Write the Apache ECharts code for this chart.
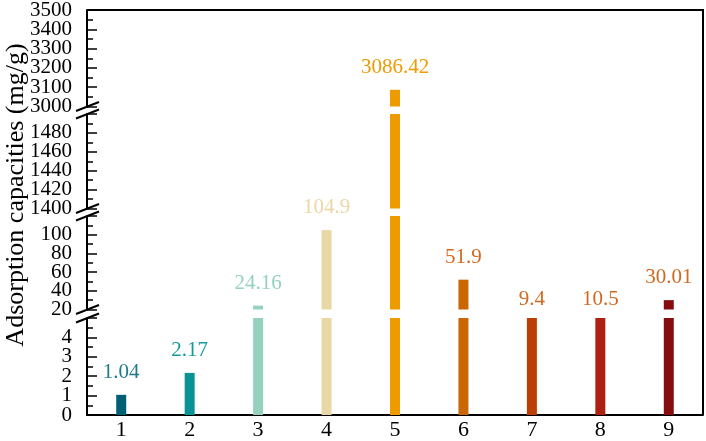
<!DOCTYPE html>
<html>
<head>
<meta charset="utf-8">
<script src="https://cdn.jsdelivr.net/npm/echarts@6/dist/echarts.min.js"></script>
<style>
  html, body { margin: 0; padding: 0; background: #fff; }
  #chart { width: 706px; height: 441px; }
</style>
</head>
<body>
<div id="chart"></div>
<script>
// Broken-axis bar chart: four stacked grids share one x axis

const categories = ["1", "2", "3", "4", "5", "6", "7", "8", "9"];
const capacities = [1.04, 2.17, 24.16, 104.9, 3086.42, 51.9, 9.4, 10.5, 30.01];

// y segments, bottom to top
const segMins = [0, 20, 1400, 3000];
const segMaxs = [5, 120, 1500, 3500];
const segIntervals = [1, 20, 20, 100];

// tick labels per segment (top of lower segments sits on the break, unlabeled)
const ticksSeg1 = [0, 1, 2, 3, 4];
const ticksSeg2 = [20, 40, 60, 80, 100];
const ticksSeg3 = [1400, 1420, 1440, 1460, 1480];
const ticksSeg4 = [3000, 3100, 3200, 3300, 3400, 3500];
const segTicks = [ticksSeg1, ticksSeg2, ticksSeg3, ticksSeg4];

const barColors = ["#005f73", "#0a9396", "#94d2bd", "#e9d8a6", "#ee9b00",
    "#ca6702", "#bb3e03", "#ae2012", "#850d0d"];
const labelColors = ["#1f7b89", "#14999b", "#94d2bd", "#ecd6a4", "#ee9b00",
    "#d2691e", "#d2691e", "#d2691e", "#d2691e"];

const FONT = '"Liberation Serif", "Times New Roman", serif';
const left = 87, right = 3;
// pixel layout of each segment (bottom to top)
const gridBoxes = [
    { top: 318, height: 97 },
    { top: 216, height: 93.5 },
    { top: 114, height: 94.5 },
    { top: 10, height: 96.5 },
];

const grids = gridBoxes.map((g) => ({ left, right, top: g.top, height: g.height }));

const xAxes = gridBoxes.map((g, i) => ({
    type: "category",
    gridIndex: i,
    data: categories,
    show: i === 0,
    axisLine: { lineStyle: { color: "#000", width: 2 } },
    axisTick: { show: false },
    axisLabel: { color: "#000", fontFamily: FONT, fontSize: 22, margin: 4 },
}));

const yAxes = gridBoxes.map((g, i) => ({
    type: "value",
    gridIndex: i,
    min: segMins[i],
    max: segMaxs[i],
    interval: segIntervals[i],
    startValue: segMins[i],
    axisLine: { show: true, lineStyle: { color: "#000", width: 2 } },
    axisTick: { show: true, inside: true, length: 10, lineStyle: { color: "#000", width: 1.5 } },
    minorTick: { show: true, splitNumber: 2, length: 6, lineStyle: { color: "#000", width: 1.5 } },
    splitLine: { show: false },
    // labels are placed below as text, so close ticks are not thinned out
    axisLabel: { show: false },
}));

const series = gridBoxes.map((g, i) => {
    const min = segMins[i], max = segMaxs[i];
    const data = capacities.map((v, k) => {
        const inSeg = v >= min && v <= max;
        // value sitting in the break just below this segment: label goes here
        const inGap = i > 0 && v > segMaxs[i - 1] && v < min;
        if (v < min && !inGap) return "-";
        return {
            value: inGap ? min : v,
            itemStyle: { color: barColors[k] },
            label: {
                show: inSeg || inGap,
                color: labelColors[k],
                distance: inGap ? 0 : 12,
                formatter: String(v),
            },
        };
    });
    return {
        type: "bar",
        xAxisIndex: i,
        yAxisIndex: i,
        barWidth: 10,
        clip: true,
        label: { position: "top", fontFamily: FONT, fontSize: 21 },
        data,
    };
});

// break marks and frame
const axisX = left;
const breakLines = [];
for (let i = 0; i < gridBoxes.length - 1; i++) {
    const yLow = gridBoxes[i].top;
    const yUp = gridBoxes[i + 1].top + gridBoxes[i + 1].height;
    [yLow, yUp].forEach((y) => {
        breakLines.push({
            type: "line",
            z: 100,
            shape: { x1: axisX - 11, y1: y + 4.5, x2: axisX + 12, y2: y - 4.5 },
            style: { stroke: "#000", lineWidth: 2 },
        });
    });
}
const plotTop = gridBoxes[3].top;
const plotBottom = gridBoxes[0].top + gridBoxes[0].height;
const plotRight = 706 - right;

const chart = echarts.init(document.getElementById("chart"), null, { renderer: "canvas" });
chart.setOption({
    animation: false,
    backgroundColor: "#fff",
    grid: grids,
    xAxis: xAxes,
    yAxis: yAxes,
    series,
});

// y tick labels, positioned through each segment's value axis
const tickTexts = [];
segTicks.forEach((ticks, i) => {
    ticks.forEach((t) => {
        const y = chart.convertToPixel({ yAxisIndex: i }, t);
        tickTexts.push({
            type: "text",
            x: axisX - 15,
            y,
            style: {
                text: String(t),
                font: '21px "Liberation Serif"',
                textAlign: "right",
                textVerticalAlign: "middle",
                fill: "#000",
            },
        });
    });
});

chart.setOption({
    graphic: [
        ...breakLines,
        ...tickTexts,
        {
            type: "polyline",
            z: 100,
            shape: { points: [[axisX, plotTop], [plotRight, plotTop], [plotRight, plotBottom]] },
            style: { stroke: "#000", lineWidth: 2, fill: null },
        },
        {
            type: "text",
            x: 16,
            y: 195,
            rotation: Math.PI / 2,
            style: {
                text: "Adsorption capacities (mg/g)",
                font: '26px "Liberation Serif"',
                textAlign: "center",
                textVerticalAlign: "middle",
                fill: "#000",
            },
        },
    ],
});
</script>
</body>
</html>
